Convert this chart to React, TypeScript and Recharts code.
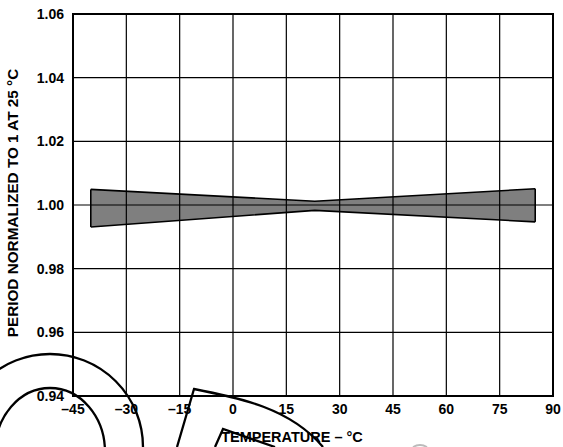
import { Area, CartesianGrid, ComposedChart, Label, ReferenceArea, ReferenceLine, XAxis, YAxis } from "recharts";

// band of period drift vs temperature
const temps = [-40, 23, 85];
const upper = [1.0049, 1.0012, 1.0051];
const lower = [0.9931, 0.9983, 0.9947];

const xTicks = [-45, -30, -15, 0, 15, 30, 45, 60, 75, 90];
const yTicks = [0.94, 0.96, 0.98, 1.0, 1.02, 1.04, 1.06];

const data = temps.map((t, i) => ({ t, band: [lower[i], upper[i]] }));

const FONT = "'Liberation Sans', Arial, sans-serif";
const tickStyle = { fontSize: 14, fontWeight: 700, fill: "#000", fontFamily: FONT };

const fmtX = (v: number) => (v < 0 ? `–${Math.abs(v)}` : `${v}`);

export default function App() {
  const first = 0;
  const last = temps.length - 1;
  return (
    <div style={{ position: "absolute", left: 0, top: 0, width: 563, height: 447 }}>
      <ComposedChart width={563} height={447} data={data} margin={{ top: 14, right: 10, bottom: 0, left: 0 }}>
        <CartesianGrid stroke="#000" strokeWidth={1.2} horizontalValues={yTicks} verticalValues={xTicks} />
        <XAxis
          dataKey="t"
          type="number"
          domain={[-45, 90]}
          ticks={xTicks}
          tickFormatter={fmtX}
          tick={tickStyle}
          tickLine={false}
          tickSize={0}
          tickMargin={8}
          axisLine={{ stroke: "#000", strokeWidth: 2 }}
          height={51}
          interval={0}
        >
          <Label
            value="TEMPERATURE – °C"
            position="insideBottom"
            offset={5}
            dx={-21}
            style={{ fontSize: 14.5, fontWeight: 700, fill: "#000", fontFamily: FONT }}
          />
        </XAxis>
        <YAxis
          type="number"
          domain={[0.94, 1.06]}
          ticks={yTicks}
          tickFormatter={(v: number) => v.toFixed(2)}
          tick={tickStyle}
          tickLine={false}
          tickSize={0}
          tickMargin={9}
          axisLine={{ stroke: "#000", strokeWidth: 2 }}
          width={73}
          interval={0}
        >
          <Label
            value="PERIOD NORMALIZED TO 1 AT 25 °C"
            angle={-90}
            position="insideLeft"
            offset={13}
            dy={-2}
            style={{ fontSize: 15.3, fontWeight: 700, fill: "#000", fontFamily: FONT, textAnchor: "middle" }}
          />
        </YAxis>
        <Area
          dataKey="band"
          type="linear"
          fill="#000"
          fillOpacity={0.5}
          stroke="#000"
          strokeWidth={1.6}
          isAnimationActive={false}
          dot={false}
          activeDot={false}
        />
        <ReferenceLine
          segment={[{ x: temps[first], y: lower[first] }, { x: temps[first], y: upper[first] }]}
          stroke="#000"
          strokeWidth={1.6}
        />
        <ReferenceLine
          segment={[{ x: temps[last], y: lower[last] }, { x: temps[last], y: upper[last] }]}
          stroke="#000"
          strokeWidth={1.6}
        />
        <ReferenceArea x1={-45} x2={90} y1={0.94} y2={1.06} fill="none" stroke="#000" strokeWidth={2} />
      </ComposedChart>
      {/* stray scan marks overlapping the bottom of the original figure */}
      <svg
        width={563}
        height={447}
        style={{ position: "absolute", left: 0, top: 0, pointerEvents: "none" }}
      >
        <g fill="none" stroke="#000" strokeWidth={2.3}>
          <circle cx={50} cy={447} r={93} />
          <ellipse cx={50} cy={452} rx={55} ry={64} />
          <path d="M177 447 L194 389 C 240 398, 290 408, 323 447" />
          <path d="M215 447 L223 429 L275 447" />
        </g>
        <path d="M413 447 Q420 443 427 447" fill="none" stroke="#bbb" strokeWidth={2} />
      </svg>
    </div>
  );
}
